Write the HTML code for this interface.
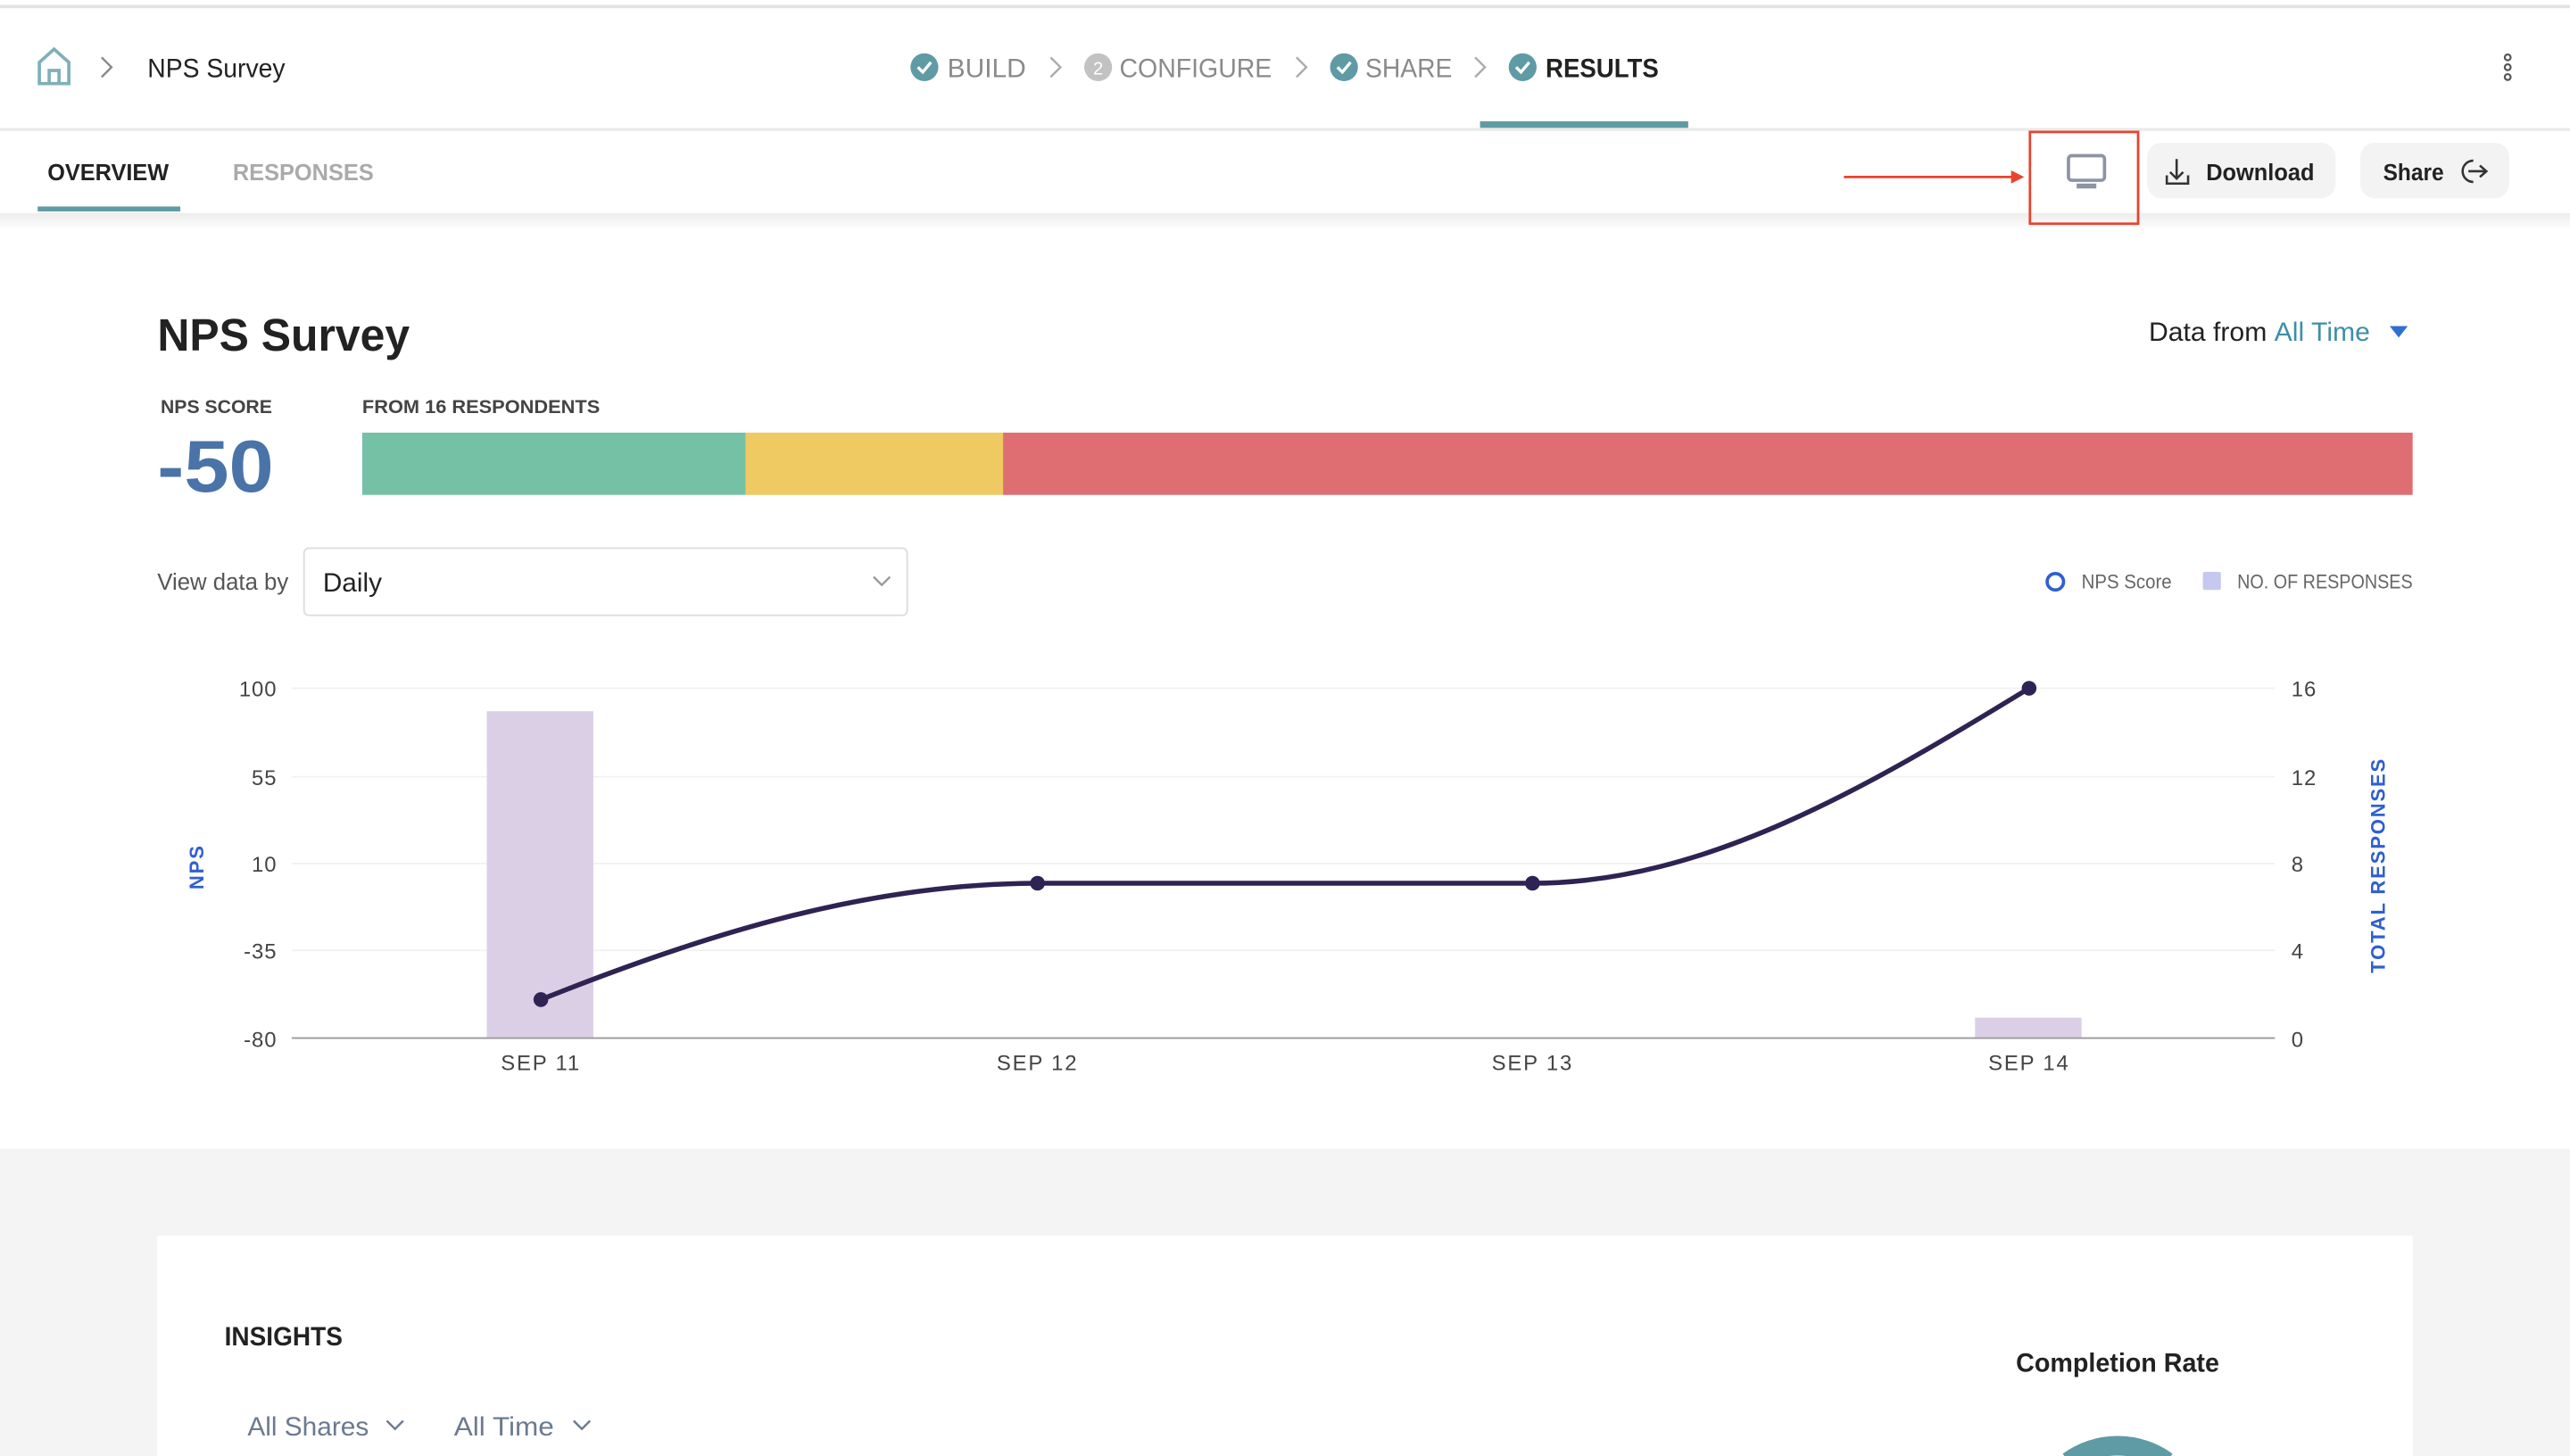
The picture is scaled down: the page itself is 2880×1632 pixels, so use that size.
<!DOCTYPE html>
<html><head><meta charset="utf-8"><style>
html,body{margin:0;padding:0;background:#fff;width:2880px;height:1632px;overflow:hidden;}
svg{display:block;font-family:"Liberation Sans",sans-serif;}
</style></head><body>
<svg width="2880" height="1632" viewBox="0 0 1568 888.5" xmlns="http://www.w3.org/2000/svg">
<defs><linearGradient id="sh" x1="0" y1="0" x2="0" y2="1"><stop offset="0" stop-color="#ececec"/><stop offset="1" stop-color="#fff"/></linearGradient></defs>
<rect width="1568" height="888.5" fill="#fff"/>
<rect y="3" width="1568" height="2" fill="#e3e3e3"/>
<path d="M24 38 L33 30 L42 38 V51 H24 Z M30 51 V43 H36 V51" fill="none" stroke="#7fb0b8" stroke-width="2"/>
<path d="M62 35 L68 41 L62 47" fill="none" stroke="#888" stroke-width="1.3"/>
<text x="90" y="47" font-size="16" fill="#222" textLength="84" lengthAdjust="spacingAndGlyphs">NPS Survey</text>
<g font-size="16">
<circle cx="564" cy="41" r="8.5" fill="#5f9ba4"/><path d="M560 41 l3 3 l5 -6" stroke="#fff" stroke-width="1.8" fill="none"/>
<text x="578" y="47" fill="#8a8a8a" textLength="48" lengthAdjust="spacingAndGlyphs">BUILD</text>
<path d="M641 35 L647 41 L641 47" fill="none" stroke="#aaa" stroke-width="1.3"/>
<circle cx="670" cy="41" r="8.5" fill="#c2c2c2"/><text x="670" y="45.5" font-size="11" fill="#fff" text-anchor="middle">2</text>
<text x="683" y="47" fill="#8a8a8a" textLength="93" lengthAdjust="spacingAndGlyphs">CONFIGURE</text>
<path d="M791 35 L797 41 L791 47" fill="none" stroke="#aaa" stroke-width="1.3"/>
<circle cx="820" cy="41" r="8.5" fill="#5f9ba4"/><path d="M816 41 l3 3 l5 -6" stroke="#fff" stroke-width="1.8" fill="none"/>
<text x="833" y="47" fill="#8a8a8a" textLength="53" lengthAdjust="spacingAndGlyphs">SHARE</text>
<path d="M900 35 L906 41 L900 47" fill="none" stroke="#aaa" stroke-width="1.3"/>
<circle cx="929" cy="41" r="8.5" fill="#5f9ba4"/><path d="M925 41 l3 3 l5 -6" stroke="#fff" stroke-width="1.8" fill="none"/>
<text x="943" y="47" fill="#222" font-weight="600" textLength="69" lengthAdjust="spacingAndGlyphs">RESULTS</text>
</g>
<g fill="none" stroke="#555" stroke-width="1.2"><circle cx="1530" cy="35" r="1.8"/><circle cx="1530" cy="41" r="1.8"/><circle cx="1530" cy="47" r="1.8"/></g>
<rect y="78" width="1568" height="2" fill="#ebebeb"/>
<rect x="903" y="74" width="127" height="4" fill="#5f9ba4"/>
<text x="29" y="110" font-size="14" font-weight="700" fill="#222" textLength="74" lengthAdjust="spacingAndGlyphs">OVERVIEW</text>
<text x="142" y="110" font-size="14" font-weight="700" fill="#aaa" textLength="86" lengthAdjust="spacingAndGlyphs">RESPONSES</text>
<rect x="23" y="126" width="87" height="3" fill="#5f9ba4"/>
<rect y="130" width="1568" height="10" fill="url(#sh)"/>
<line x1="1125" y1="108" x2="1228" y2="108" stroke="#e8432e" stroke-width="1.5"/>
<path d="M1227 104 L1235 108 L1227 112 Z" fill="#e8432e"/>
<rect x="1238.5" y="80.5" width="66" height="56" fill="none" stroke="#e8432e" stroke-width="1.5"/>
<rect x="1262" y="95" width="22" height="15" rx="2" fill="none" stroke="#8c93a5" stroke-width="2"/>
<rect x="1267" y="112" width="12" height="3" fill="#8c93a5"/>
<rect x="1310" y="87" width="115" height="34" rx="9" fill="#f3f3f3"/>
<path d="M1328 97 V109 M1324 105 L1328 109 L1332 105 M1322 107 V112 H1335 V107" fill="none" stroke="#333" stroke-width="1.4"/>
<text x="1346" y="110" font-size="14" font-weight="600" fill="#222" textLength="66" lengthAdjust="spacingAndGlyphs">Download</text>
<rect x="1440" y="87" width="91" height="34" rx="9" fill="#f3f3f3"/>
<text x="1454" y="110" font-size="14" font-weight="600" fill="#222" textLength="37" lengthAdjust="spacingAndGlyphs">Share</text>
<path d="M1509 98 A6 6 0 1 0 1509 111 M1506 104.5 H1517 M1513 101 L1517 104.5 L1513 108" fill="none" stroke="#333" stroke-width="1.4"/>
<text x="96" y="214" font-size="28" font-weight="700" fill="#222" textLength="154" lengthAdjust="spacingAndGlyphs">NPS Survey</text>
<text x="1311" y="208" font-size="16" fill="#222" textLength="135" lengthAdjust="spacingAndGlyphs">Data from <tspan fill="#3d8fa6">All Time</tspan></text>
<path d="M1458 199 L1469 199 L1463.5 206 Z" fill="#2f6fd1"/>
<text x="98" y="252" font-size="11.5" font-weight="700" fill="#444" textLength="68" lengthAdjust="spacingAndGlyphs">NPS SCORE</text>
<text x="221" y="252" font-size="11.5" font-weight="700" fill="#444" textLength="145" lengthAdjust="spacingAndGlyphs">FROM 16 RESPONDENTS</text>
<text x="96" y="300" font-size="45" font-weight="700" fill="#4a73a8" textLength="71" lengthAdjust="spacingAndGlyphs">-50</text>
<rect x="221" y="264" width="234" height="38" fill="#75c1a6"/>
<rect x="455" y="264" width="157" height="38" fill="#efc961"/>
<rect x="612" y="264" width="860" height="38" fill="#de6e72"/>
<text x="96" y="360" font-size="14" fill="#555" textLength="80" lengthAdjust="spacingAndGlyphs">View data by</text>
<rect x="185.5" y="334.5" width="368" height="41" rx="3" fill="#fff" stroke="#ddd"/>
<text x="197" y="361" font-size="16" fill="#222" textLength="36" lengthAdjust="spacingAndGlyphs">Daily</text>
<path d="M533 352 L538 357 L543 352" fill="none" stroke="#999" stroke-width="1.3"/>
<circle cx="1254" cy="355" r="5" fill="none" stroke="#2f5fd0" stroke-width="2"/>
<text x="1270" y="359" font-size="12" fill="#666" textLength="55" lengthAdjust="spacingAndGlyphs">NPS Score</text>
<rect x="1344" y="349" width="11" height="11" rx="1" fill="#c5c9ef"/>
<text x="1365" y="359" font-size="12" fill="#666" textLength="107" lengthAdjust="spacingAndGlyphs">NO. OF RESPONSES</text>
<g stroke="#f1f1f1" stroke-width="1"><line x1="178" y1="420" x2="1388" y2="420"/><line x1="178" y1="474" x2="1388" y2="474"/><line x1="178" y1="527" x2="1388" y2="527"/><line x1="178" y1="580" x2="1388" y2="580"/></g>
<rect x="297" y="434" width="65" height="199" fill="#dbcfe6"/>
<rect x="1205" y="621" width="65" height="12" fill="#dbcfe6"/>
<line x1="178" y1="633.5" x2="1388" y2="633.5" stroke="#999" stroke-width="1"/>
<g font-size="13" fill="#444" letter-spacing="0.5">
<g text-anchor="end"><text x="169" y="425">100</text><text x="169" y="479">55</text><text x="169" y="532">10</text><text x="169" y="585">-35</text><text x="169" y="639">-80</text></g>
<text x="1398" y="425">16</text><text x="1398" y="479">12</text><text x="1398" y="532">8</text><text x="1398" y="585">4</text><text x="1398" y="639">0</text>
<g text-anchor="middle" letter-spacing="1"><text x="330" y="653">SEP 11</text><text x="633" y="653">SEP 12</text><text x="935" y="653">SEP 13</text><text x="1238" y="653">SEP 14</text></g>
</g>
<text transform="translate(124,529) rotate(-90)" text-anchor="middle" font-size="12" font-weight="700" fill="#2f5fd0" letter-spacing="1">NPS</text>
<text transform="translate(1455,528) rotate(-90)" text-anchor="middle" font-size="12" font-weight="700" fill="#2f5fd0" letter-spacing="1">TOTAL RESPONSES</text>
<path d="M330 610 C430 570 530 539 633 539 L935 539 C1040 539 1140 480 1238 420" fill="none" stroke="#2e2352" stroke-width="3"/>
<g fill="#2e2352"><circle cx="330" cy="610" r="4.5"/><circle cx="633" cy="539" r="4.5"/><circle cx="935" cy="539" r="4.5"/><circle cx="1238" cy="420" r="4.5"/></g>
<rect y="701" width="1568" height="187.5" fill="#f4f4f4"/>
<rect x="96" y="754" width="1376" height="134.5" fill="#fff"/>
<text x="137" y="821" font-size="16" font-weight="600" fill="#222" textLength="72" lengthAdjust="spacingAndGlyphs">INSIGHTS</text>
<text x="1230" y="837" font-size="16" font-weight="600" fill="#222" textLength="124" lengthAdjust="spacingAndGlyphs">Completion Rate</text>
<text x="151" y="876" font-size="16" fill="#6b7a90" textLength="74" lengthAdjust="spacingAndGlyphs">All Shares</text>
<path d="M236 867 L241 872 L246 867" fill="none" stroke="#6b7a90" stroke-width="1.3"/>
<text x="277" y="876" font-size="16" fill="#6b7a90" textLength="61" lengthAdjust="spacingAndGlyphs">All Time</text>
<path d="M350 867 L355 872 L360 867" fill="none" stroke="#6b7a90" stroke-width="1.3"/>
<path d="M1262 892 A51 51 0 0 1 1322 892" fill="none" stroke="#5f9ba4" stroke-width="12"/>
</svg>
</body></html>
